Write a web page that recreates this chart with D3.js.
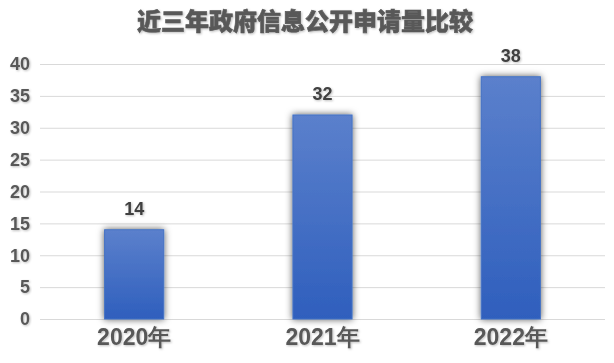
<!DOCTYPE html>
<meta charset="utf-8">
<style>
body { margin: 0; background: #fff; }
.grid line { stroke: #d9d9d9; stroke-width: 1px; }
.grid path { display: none; }
.axis text { font-family: "Liberation Sans", Arial, sans-serif; font-weight: bold; fill: #595959; }
.axis path, .axis line { display: none; }
</style>
<body>
<script src="https://d3js.org/d3.v7.min.js"></script>
<script>

// data
var years = ["2020年", "2021年", "2022年"];
var counts = [14, 32, 38];
var yTicks = [0, 5, 10, 15, 20, 25, 30, 35, 40];
var title = "近三年政府信息公开申请量比较";

var width = 614, height = 363;
var plot = {left: 40, right: 605, top: 64, bottom: 319};

var svg = d3.select("body").append("svg")
    .attr("width", width)
    .attr("height", height);

var defs = svg.append("defs");

// bar gradient
var grad = defs.append("linearGradient")
    .attr("id", "barGrad")
    .attr("x1", 0).attr("y1", 0).attr("x2", 0).attr("y2", 1);
grad.append("stop").attr("offset", "0%").attr("stop-color", "#5b80cc");
grad.append("stop").attr("offset", "100%").attr("stop-color", "#2f5fbd");

// bar shadow
var shadow = defs.append("filter")
    .attr("id", "shadow")
    .attr("x", "-30%").attr("y", "-30%").attr("width", "160%").attr("height", "160%");
shadow.append("feDropShadow")
    .attr("dx", 0).attr("dy", 0)
    .attr("stdDeviation", 3.5)
    .attr("flood-color", "#000")
    .attr("flood-opacity", 0.65);

// text shadow
var tshadow = defs.append("filter").attr("id", "tshadow");
tshadow.append("feDropShadow")
    .attr("dx", 1).attr("dy", 1)
    .attr("stdDeviation", 0.8)
    .attr("flood-color", "#000")
    .attr("flood-opacity", 0.25);

// scales
var x = d3.scaleBand()
    .domain(years)
    .range([plot.left, plot.right])
    .paddingInner(0.686)
    .paddingOuter(0.343);

var y = d3.scaleLinear()
    .domain([0, 40])
    .range([plot.bottom, plot.top]);

// gridlines
svg.append("g")
    .attr("class", "grid")
    .attr("transform", "translate(" + plot.left + ",0)")
    .call(d3.axisLeft(y).tickValues(yTicks).tickSize(-(plot.right - plot.left)).tickFormat(""));

// y axis labels
svg.append("g")
    .attr("class", "axis")
    .attr("transform", "translate(" + plot.left + ",0)")
    .call(d3.axisLeft(y).tickValues(yTicks).tickSize(0).tickPadding(10))
    .selectAll("text")
    .style("font-size", "18px")
    .attr("filter", "url(#tshadow)");

// x axis labels
svg.append("g")
    .attr("class", "axis")
    .attr("transform", "translate(0," + plot.bottom + ")")
    .call(d3.axisBottom(x).tickSize(0).tickPadding(10))
    .selectAll("text")
    .style("font-size", "23px")
    .attr("filter", "url(#tshadow)");

// bars
svg.selectAll(".bar")
    .data(counts)
    .enter().append("rect")
    .attr("class", "bar")
    .attr("x", function(d, i) { return x(years[i]); })
    .attr("y", function(d) { return y(d); })
    .attr("width", x.bandwidth())
    .attr("height", function(d) { return y(0) - y(d); })
    .attr("fill", "url(#barGrad)")
    .attr("stroke", "#4472c4")
    .attr("stroke-width", 1)
    .attr("filter", "url(#shadow)");

// value labels
svg.selectAll(".val")
    .data(counts)
    .enter().append("text")
    .attr("class", "val")
    .attr("x", function(d, i) { return x(years[i]) + x.bandwidth() / 2; })
    .attr("y", function(d) { return y(d) - 15; })
    .attr("text-anchor", "middle")
    .style("font-family", "'Liberation Sans', Arial, sans-serif")
    .style("font-weight", "bold")
    .style("font-size", "18px")
    .style("fill", "#404040")
    .attr("filter", "url(#tshadow)")
    .text(function(d) { return d; });

// title
svg.append("text")
    .attr("x", 305)
    .attr("y", 30)
    .attr("text-anchor", "middle")
    .style("font-family", "'Noto Sans CJK SC', sans-serif")
    .style("font-weight", "900")
    .style("font-size", "24px")
    .style("fill", "#595959")
    .style("stroke", "#595959")
    .style("stroke-width", "0.6px")
    .attr("filter", "url(#tshadow)")
    .text(title);

</script>
</body>
